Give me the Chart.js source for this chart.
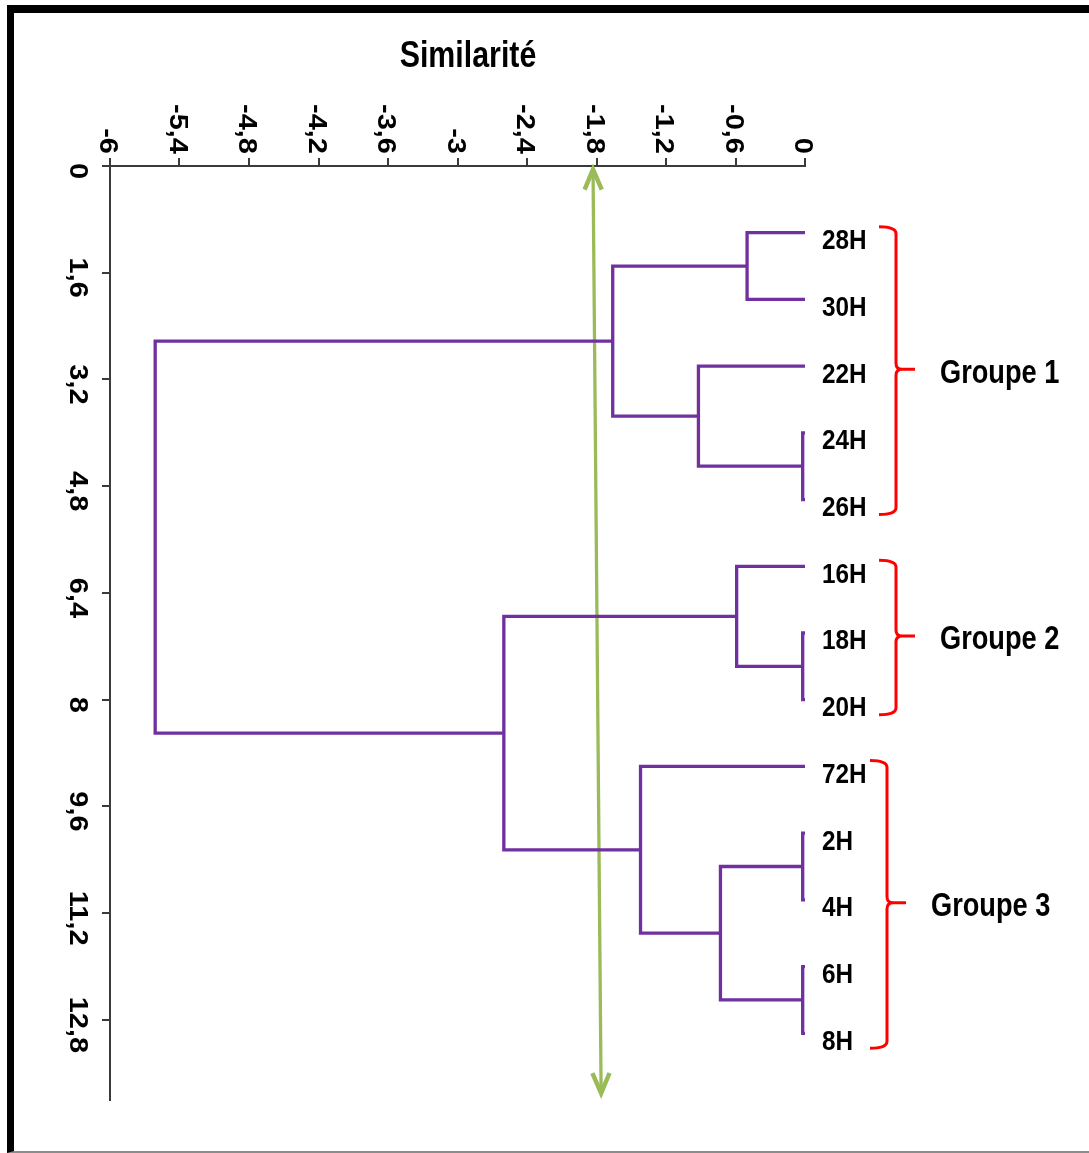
<!DOCTYPE html>
<html>
<head>
<meta charset="utf-8">
<title>Similarité</title>
<script src="https://cdn.jsdelivr.net/npm/chart.js@4.4.1/dist/chart.umd.min.js"></script>
<style>
html, body { margin: 0; padding: 0; background: #fff; }
#frame {
    position: absolute; left: 7px; top: 5px; width: 1100px; height: 1148px;
    box-sizing: border-box;
    border-top: 8px solid #000; border-left: 7px solid #000; border-bottom: 2px solid #8c8c8c;
}
#wrap { position: absolute; left: 0; top: 0; width: 1089px; height: 1153px; }
</style>
</head>
<body>
<div id="frame"></div>
<div id="wrap"><canvas id="dendro" width="1089" height="1153"></canvas></div>
<script>
// leaves, top to bottom
const leaves = ['28H', '30H', '22H', '24H', '26H', '16H', '18H', '20H', '72H', '2H', '4H', '6H', '8H'];

// merges (name, left child, right child, similarity level)
const mergeNames  = ['A', 'B', 'C', 'D', 'E', 'F', 'G', 'H', 'I', 'J', 'K', 'L'];
const mergeLeft   = ['28H', '24H', '22H', 'A', '18H', '16H', '2H', '6H', 'G', '72H', 'F', 'D'];
const mergeRight  = ['30H', '26H', 'B', 'C', '20H', 'E', '4H', '8H', 'H', 'I', 'J', 'K'];
const mergeHeight = [-0.50, -0.02, -0.92, -1.66, -0.02, -0.59, -0.02, -0.02, -0.73, -1.42, -2.60, -5.61];

// axis ticks
const xTicks = [-6, -5.4, -4.8, -4.2, -3.6, -3, -2.4, -1.8, -1.2, -0.6, 0];
const yTicks = [0, 1.6, 3.2, 4.8, 6.4, 8, 9.6, 11.2, 12.8];

// groups
const groupNames = ['Groupe 1', 'Groupe 2', 'Groupe 3'];
const groupFirst = ['28H', '16H', '72H'];
const groupLast  = ['26H', '20H', '8H'];

// cut line (green arrow)
const cutX = [-1.83, -1.76];
const cutY = [0.05, 13.9];

const PURPLE = '#7030a0';
const GREEN = '#9bbb59';
const FONT = '"Liberation Sans", Arial, sans-serif';

// node positions
const nodeY = {}, nodeH = {};
leaves.forEach((l, i) => { nodeY[l] = i + 1; nodeH[l] = 0; });

const linkSets = mergeNames.map((n, i) => {
    const a = mergeLeft[i], b = mergeRight[i], h = mergeHeight[i];
    nodeY[n] = (nodeY[a] + nodeY[b]) / 2;
    nodeH[n] = h;
    return {
        data: [
            {x: nodeH[a], y: nodeY[a]},
            {x: h, y: nodeY[a]},
            {x: h, y: nodeY[b]},
            {x: nodeH[b], y: nodeY[b]}
        ],
        borderColor: PURPLE,
        borderWidth: 3.3,
        borderJoinStyle: 'miter',
        showLine: true,
        pointRadius: 0,
        tension: 0,
        clip: false
    };
});

const cutSet = {
    data: cutX.map((x, i) => ({x: x, y: cutY[i]})),
    borderColor: GREEN,
    borderWidth: 3.3,
    showLine: true,
    pointRadius: 0,
    clip: false
};

function fmt(v) {
    return String(v).replace('.', ',');
}

const decor = {
    id: 'decor',
    afterDatasetsDraw(chart) {
        const ctx = chart.ctx;
        const xs = chart.scales.x, ys = chart.scales.y;

        function txt(s, x, y, font, sx, align, rot) {
            ctx.save();
            ctx.translate(x, y);
            ctx.scale(sx, 1);
            if (rot) ctx.rotate(Math.PI / 2);
            ctx.font = font;
            ctx.textAlign = align;
            ctx.textBaseline = 'middle';
            ctx.fillStyle = '#000';
            ctx.fillText(s, 0, 0);
            ctx.restore();
        }

        // title
        txt('Similarité', 468, 57, 'bold 37px ' + FONT, 0.82, 'center', false);

        // tick labels, rotated
        xTicks.forEach(v => {
            txt(fmt(v), xs.getPixelForValue(v) - 3, 154, 'bold 29px ' + FONT, 0.86, 'right', true);
        });
        yTicks.forEach(v => {
            txt(fmt(v), 77, ys.getPixelForValue(v) + 5, 'bold 29px ' + FONT, 0.86, 'center', true);
        });

        // leaf labels
        leaves.forEach(l => {
            txt(l, xs.right + 17, ys.getPixelForValue(nodeY[l]) + 9, 'bold 27px ' + FONT, 0.9, 'left', false);
        });

        // braces + group names
        const shift = [0, 0, -9];
        groupNames.forEach((g, i) => {
            const x = xs.right + 91 + shift[i];
            const y0 = ys.getPixelForValue(nodeY[groupFirst[i]]);
            const y1 = ys.getPixelForValue(nodeY[groupLast[i]]);
            const top = y0 - 6, bottom = y1 + 15, mid = (y0 + y1) / 2 + 3;
            ctx.save();
            ctx.strokeStyle = '#ff0000';
            ctx.lineWidth = 3;
            ctx.beginPath();
            ctx.moveTo(x - 17, top);
            ctx.quadraticCurveTo(x, top, x, top + 7);
            ctx.lineTo(x, mid - 6);
            ctx.quadraticCurveTo(x, mid, x + 6, mid);
            ctx.lineTo(x + 19, mid);
            ctx.moveTo(x + 6, mid);
            ctx.quadraticCurveTo(x, mid, x, mid + 6);
            ctx.lineTo(x, bottom - 7);
            ctx.quadraticCurveTo(x, bottom, x - 17, bottom);
            ctx.stroke();
            ctx.restore();
            txt(g, x + 44, mid + 4, 'bold 34px ' + FONT, 0.8, 'left', false);
        });

        // arrow heads on the cut line
        const p0 = {x: xs.getPixelForValue(cutX[0]), y: ys.getPixelForValue(cutY[0])};
        const p1 = {x: xs.getPixelForValue(cutX[1]), y: ys.getPixelForValue(cutY[1])};
        function head(tip, from) {
            const a = Math.atan2(tip.y - from.y, tip.x - from.x);
            const len = 22, spread = 0.4;
            ctx.beginPath();
            ctx.moveTo(tip.x - len * Math.cos(a - spread), tip.y - len * Math.sin(a - spread));
            ctx.lineTo(tip.x, tip.y);
            ctx.lineTo(tip.x - len * Math.cos(a + spread), tip.y - len * Math.sin(a + spread));
            ctx.stroke();
        }
        ctx.save();
        ctx.strokeStyle = GREEN;
        ctx.lineWidth = 4.5;
        ctx.lineJoin = 'miter';
        head(p0, p1);
        head(p1, p0);
        ctx.restore();
    }
};

const axisColor = '#3a3a3a';

new Chart(document.getElementById('dendro'), {
    type: 'scatter',
    data: {datasets: linkSets.concat([cutSet])},
    options: {
        responsive: false,
        animation: false,
        layout: {padding: {left: 102, right: 284, top: 158, bottom: 53}},
        plugins: {
            legend: {display: false},
            tooltip: {enabled: false}
        },
        scales: {
            x: {
                type: 'linear',
                position: 'top',
                min: -6,
                max: 0,
                afterBuildTicks: s => { s.ticks = xTicks.map(v => ({value: v})); },
                ticks: {display: false},
                grid: {drawOnChartArea: false, drawTicks: true, tickLength: 8, color: axisColor, lineWidth: 2},
                border: {color: axisColor, width: 2}
            },
            y: {
                type: 'linear',
                reverse: true,
                min: 0,
                max: 14,
                afterBuildTicks: s => { s.ticks = yTicks.map(v => ({value: v})); },
                ticks: {display: false},
                grid: {drawOnChartArea: false, drawTicks: true, tickLength: 8, color: axisColor, lineWidth: 2},
                border: {color: axisColor, width: 2}
            }
        }
    },
    plugins: [decor]
});
</script>
</body>
</html>
